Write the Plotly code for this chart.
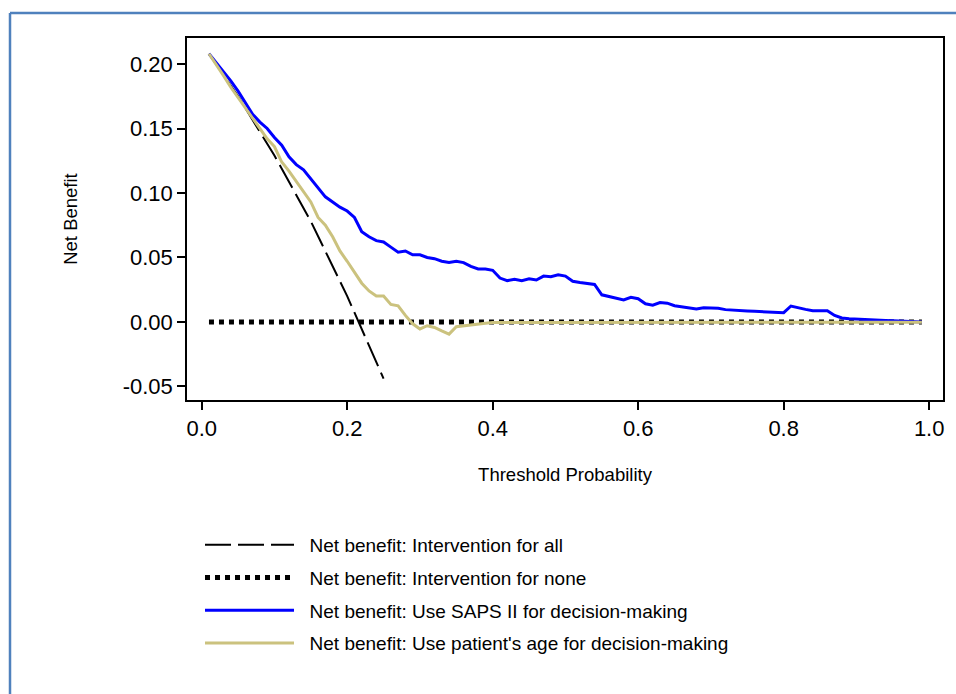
import numpy as np
import plotly.graph_objects as go

# ---------------- data ----------------
thresholds = [round(i / 100, 2) for i in range(1, 100)]

saps_nb = [
    0.208, 0.201, 0.194, 0.187, 0.179, 0.170, 0.161, 0.155, 0.150, 0.143,
    0.137, 0.128, 0.122, 0.118, 0.111, 0.104, 0.097, 0.093, 0.089, 0.086,
    0.081, 0.070, 0.066, 0.063, 0.062, 0.058, 0.054, 0.055, 0.052, 0.052,
    0.050, 0.049, 0.047, 0.046, 0.047, 0.046, 0.043, 0.041, 0.041, 0.040,
    0.034, 0.032, 0.033, 0.032, 0.0335, 0.0325, 0.0355, 0.035, 0.0365, 0.0355,
    0.0315, 0.0305, 0.030, 0.029, 0.021, 0.0195, 0.018, 0.017, 0.019, 0.018,
    0.014, 0.013, 0.015, 0.0145, 0.0125, 0.0115, 0.011, 0.010, 0.011, 0.011,
    0.0105, 0.0095, 0.009, 0.0088, 0.0085, 0.0082, 0.008, 0.0077, 0.0074, 0.0071,
    0.0123, 0.0108, 0.0097, 0.0087, 0.0086, 0.0086, 0.005, 0.003, 0.0024, 0.0021,
    0.0014, 0.0012, 0.001, 0.001, 0.0008, 0.0005, 0.0003, 0.0001, 0.0,
]

age_nb = [
    0.208, 0.200, 0.191, 0.182, 0.174, 0.166, 0.158, 0.150, 0.142, 0.136,
    0.124, 0.117, 0.109, 0.101, 0.093, 0.081, 0.075, 0.066, 0.055, 0.047,
    0.038, 0.030, 0.024, 0.020, 0.020, 0.0135, 0.0125, 0.005, -0.0015, -0.0055,
    -0.003, -0.0043, -0.007, -0.0095, -0.0038, -0.003, -0.0023, -0.0017, -0.001, -0.0005,
    -0.0004, -0.0004, -0.0004, -0.0004, -0.0004, -0.0004, -0.0004, -0.0004, -0.0004, -0.0004,
    -0.0004, -0.0004, -0.0004, -0.0004, -0.0004, -0.0004, -0.0004, -0.0004, -0.0004, -0.0004,
    -0.0003, -0.0003, -0.0003, -0.0003, -0.0003, -0.0003, -0.0003, -0.0003, -0.0003, -0.0003,
    -0.0003, -0.0003, -0.0003, -0.0003, -0.0003, -0.0003, -0.0003, -0.0003, -0.0003, -0.0003,
    -0.0002, -0.0002, -0.0002, -0.0002, -0.0002, -0.0002, -0.0002, -0.0002, -0.0002, -0.0002,
    -0.0002, -0.0002, -0.0002, -0.0002, -0.0002, -0.0002, -0.0002, -0.0002, -0.0002,
]

all_x = [0.01, 0.05, 0.10, 0.15, 0.20, 0.25]
all_nb = [0.208, 0.175, 0.129, 0.078, 0.020, -0.044]

none_x = [0.01, 0.99]
none_nb = [0.0, 0.0]

x_ticks = [0.0, 0.2, 0.4, 0.6, 0.8, 1.0]
x_tick_labels = ["0.0", "0.2", "0.4", "0.6", "0.8", "1.0"]
y_ticks = [-0.05, 0.0, 0.05, 0.10, 0.15, 0.20]
y_tick_labels = ["-0.05", "0.00", "0.05", "0.10", "0.15", "0.20"]

names = [
    "Net benefit: Intervention for all",
    "Net benefit: Intervention for none",
    "Net benefit: Use SAPS II for decision-making",
    "Net benefit: Use patient's age for decision-making",
]

# ---------------- figure ----------------
FONT = "Liberation Sans, Arial, sans-serif"
PAD = "\u00a0\u00a0"
fig = go.Figure()

fig.add_trace(go.Scatter(x=all_x, y=all_nb, mode="lines", name=PAD + names[0],
                         legendgroup="a",
                         line=dict(color="black", width=2, dash="26px,7px")))
fig.add_trace(go.Scatter(x=none_x, y=none_nb, mode="lines", name=PAD + names[1],
                         legendgroup="b",
                         line=dict(color="black", width=5, dash="5px,5px")))
fig.add_trace(go.Scatter(x=thresholds, y=saps_nb, mode="lines", name=PAD + names[2],
                         legendgroup="c",
                         line=dict(color="#0000FF", width=3)))
fig.add_trace(go.Scatter(x=thresholds, y=age_nb, mode="lines", name=PAD + names[3],
                         legendgroup="d",
                         line=dict(color="#CBC27E", width=3)))

W, H = 956, 694
L, R, T, B = 187, 13, 38, 294
pw, ph = W - L - R, H - T - B

def px_x(px):
    return (px - L) / pw

def px_y(py):
    return 1 - (py - T) / ph

fig.update_layout(
    width=W, height=H,
    margin=dict(l=L, r=R, t=T, b=B, autoexpand=False),
    paper_bgcolor="white", plot_bgcolor="white",
    font=dict(family=FONT, color="black"),
    showlegend=True,
    legend=dict(
        x=px_x(200), y=px_y(526), xanchor="left", yanchor="top",
        xref="paper", yref="paper",
        orientation="v", bgcolor="rgba(0,0,0,0)",
        font=dict(size=19, family=FONT, color="black"),
        itemwidth=89, tracegroupgap=5,
        itemclick=False, itemdoubleclick=False,
    ),
    xaxis=dict(
        range=[-0.0202, 1.019], tickvals=x_ticks, ticktext=x_tick_labels,
        showgrid=False, zeroline=False, showline=True, mirror=True,
        linecolor="black", linewidth=1.5, ticks="outside", ticklen=8,
        tickwidth=1.5, tickcolor="black",
        tickfont=dict(size=22, family=FONT),
        title=dict(text="Threshold Probability", font=dict(size=18.5, family=FONT),
                   standoff=28),
    ),
    yaxis=dict(
        range=[-0.0606, 0.2202], tickvals=y_ticks, ticktext=y_tick_labels,
        showgrid=False, zeroline=False, showline=True, mirror=True,
        linecolor="black", linewidth=1.5, ticks="outside", ticklen=8,
        tickwidth=1.5, tickcolor="black",
        tickfont=dict(size=22, family=FONT),
        title=dict(text="Net Benefit", font=dict(size=18.5, family=FONT),
                   standoff=40),
    ),
    shapes=[
        dict(type="line", xref="paper", yref="paper",
             x0=px_x(10), x1=px_x(10), y0=px_y(13), y1=px_y(700),
             line=dict(color="#4F81BD", width=2.5)),
        dict(type="line", xref="paper", yref="paper",
             x0=px_x(10), x1=px_x(960), y0=px_y(13), y1=px_y(13),
             line=dict(color="#4F81BD", width=2.5)),
    ],
)

fig.write_html("out.html")
